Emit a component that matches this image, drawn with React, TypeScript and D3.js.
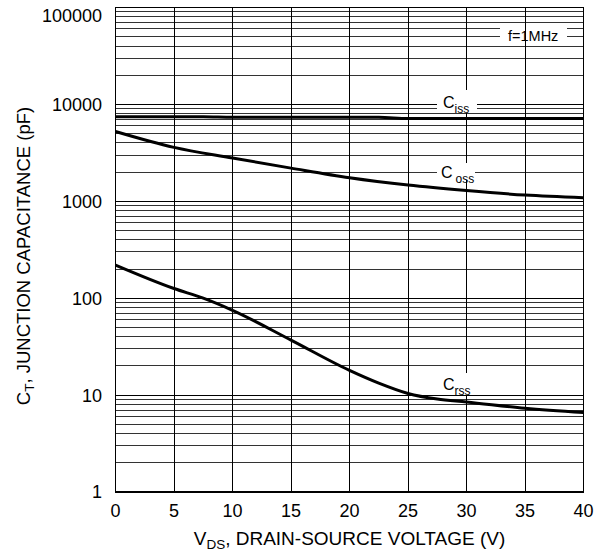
import React from "react";
import * as d3 from "d3";

// Drain-source voltage samples (V)
const vdsCiss = [0, 5, 7.5, 10, 15, 20, 22.5, 25, 30, 35, 40];
const ciss = [7450, 7450, 7450, 7350, 7350, 7350, 7350, 7150, 7150, 7150, 7150];

const vdsCoss = [0, 5, 10, 15, 20, 25, 30, 35, 40];
const coss = [5250, 3600, 2800, 2200, 1750, 1470, 1290, 1160, 1090];

const vdsCrss = [0, 5, 7.5, 10, 15, 20, 22.5, 25, 27.5, 30, 35, 40];
const crss = [220, 126, 100, 75, 37, 18, 13.3, 10.4, 9.1, 8.5, 7.3, 6.6];

const xTicks = [0, 5, 10, 15, 20, 25, 30, 35, 40];
const yTicks = [1, 10, 100, 1000, 10000, 100000];

const W = 598;
const H = 552;
const FONT = "'Liberation Sans', Arial, Helvetica, sans-serif";

export default function App() {
  const x = d3.scaleLinear().domain([0, 40]).range([115.5, 583.5]);
  const y = d3.scaleLog().domain([1, 100000]).range([492, 7.5]);

  // every 1..9 × decade gridline
  const hGrid: { v: number; major: boolean }[] = [];
  for (let d = 1; d < 100000; d *= 10) {
    for (let k = 1; k <= 9; k++) hGrid.push({ v: k * d, major: k === 1 });
  }
  hGrid.push({ v: 100000, major: true });

  const line = d3
    .line<[number, number]>()
    .x((d) => x(d[0]))
    .y((d) => y(d[1]))
    .curve(d3.curveMonotoneX);

  const series = [
    vdsCiss.map((v, i) => [v, ciss[i]] as [number, number]),
    vdsCoss.map((v, i) => [v, coss[i]] as [number, number]),
    vdsCrss.map((v, i) => [v, crss[i]] as [number, number]),
  ];

  // curve labels: C with subscript, white patch behind
  const curveLabels = [
    { sub: "iss", left: 443, base: 108, box: [437, 90, 40, 23] },
    { sub: "oss", left: 441, base: 178, box: [437, 163, 38, 17], gap: true },
    { sub: "rss", left: 443, base: 390, box: [439, 373, 37, 22] },
  ];

  return (
    <svg
      width={W}
      height={H}
      viewBox={`0 0 ${W} ${H}`}
      style={{ position: "absolute", left: 0, top: 0, background: "#fff" }}
      fontFamily={FONT}
    >
      <rect x={0} y={0} width={W} height={H} fill="#fff" />

      {/* horizontal log grid */}
      <g shapeRendering="crispEdges">
        {hGrid.map((g, i) => (
          <line
            key={i}
            x1={x(0)}
            x2={x(40)}
            y1={y(g.v)}
            y2={y(g.v)}
            stroke={g.major ? "#000" : "#333"}
            strokeWidth={1}
          />
        ))}
      </g>

      {/* frequency note */}
      <rect x={500} y={27} width={67} height={15} fill="#fff" />

      {/* vertical grid */}
      <g shapeRendering="crispEdges">
        {xTicks.map((t) => (
          <line
            key={t}
            x1={x(t)}
            x2={x(t)}
            y1={y(100000)}
            y2={y(1)}
            stroke="#000"
            strokeWidth={1}
          />
        ))}
      </g>

      <text x={508} y={41} fontSize={14.5} fill="#000">
        f=1MHz
      </text>

      {/* curve label patches */}
      {curveLabels.map((c, i) => (
        <rect key={i} x={c.box[0]} y={c.box[1]} width={c.box[2]} height={c.box[3]} fill="#fff" />
      ))}

      {/* frame */}
      <rect
        x={x(0)}
        y={y(100000)}
        width={x(40) - x(0)}
        height={y(1) - y(100000)}
        fill="none"
        stroke="#000"
        strokeWidth={1.5}
        shapeRendering="crispEdges"
      />

      {/* capacitance curves */}
      {series.map((s, i) => (
        <path key={i} d={line(s) ?? ""} fill="none" stroke="#000" strokeWidth={3} />
      ))}

      {curveLabels.map((c, i) => (
        <text key={i} x={c.left} y={c.base} fontSize={16} fill="#000">
          C
          <tspan dx={c.gap ? 3 : 0} dy={5} fontSize={12}>
            {c.sub}
          </tspan>
        </text>
      ))}

      {/* y tick labels */}
      {yTicks.map((t) => (
        <text
          key={t}
          x={102}
          y={Math.max(y(t), 16)}
          dy="0.36em"
          textAnchor="end"
          fontSize={18}
          fill="#000"
        >
          {t}
        </text>
      ))}

      {/* x tick labels */}
      {xTicks.map((t) => (
        <text key={t} x={x(t)} y={516.5} textAnchor="middle" fontSize={18} fill="#000">
          {t}
        </text>
      ))}

      {/* axis titles */}
      <text x={349.5} y={545} textAnchor="middle" fontSize={19} fill="#000">
        V<tspan dy={3.5} fontSize={13.5}>DS</tspan>
        <tspan dy={-3.5}>, DRAIN-SOURCE VOLTAGE (V)</tspan>
      </text>

      <text
        transform="translate(30,256) rotate(-90)"
        textAnchor="middle"
        fontSize={18.5}
        fill="#000"
      >
        C<tspan dy={3.5} fontSize={13.5}>T</tspan>
        <tspan dy={-3.5}>, JUNCTION CAPACITANCE (pF)</tspan>
      </text>
    </svg>
  );
}
